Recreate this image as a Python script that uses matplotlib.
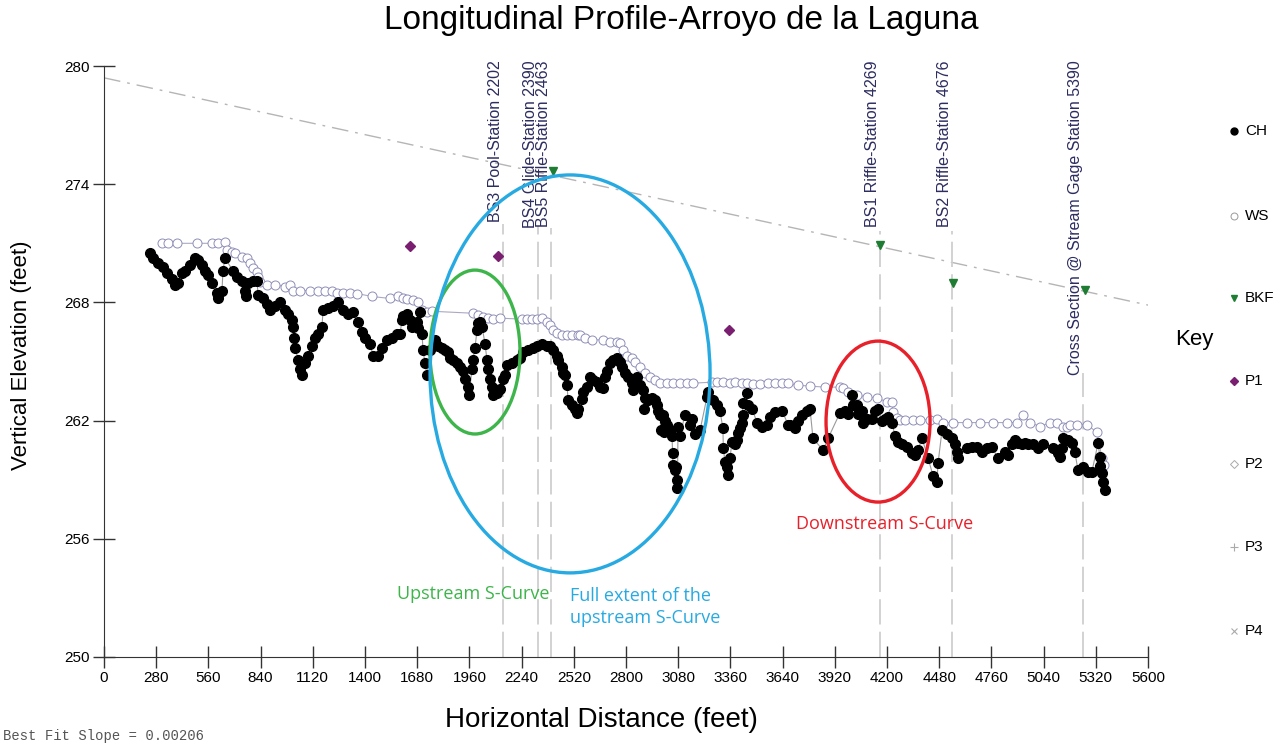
import matplotlib.pyplot as plt
from matplotlib.patches import Ellipse
from matplotlib.lines import Line2D

# channel bed points (CH)
ch_x = [247, 263, 290, 316, 338, 365, 381, 397, 418, 434, 461, 488, 504, 526, 542, 558, 579, 606, 611, 633,
        638, 649, 692, 713, 740, 756, 762, 772, 799, 821, 826, 853, 874, 890, 917, 944, 971, 987, 1008, 1014,
        1020, 1025, 1041, 1051, 1062, 1078, 1094, 1116, 1132, 1148, 1169, 1175, 1202, 1228, 1255, 1282, 1309,
        1336, 1362, 1384, 1400, 1427, 1443, 1470, 1491, 1518, 1545, 1572, 1588, 1598, 1604, 1625, 1641, 1652,
        1668, 1679, 1684, 1695, 1706, 1711, 1722, 1733, 1749, 1775, 1792, 1813, 1829, 1845, 1856, 1872, 1894,
        1910, 1926, 1936, 1953, 1958, 1974, 1979, 1990, 2001, 2006, 2017, 2028, 2044, 2054, 2060, 2070, 2081,
        2087, 2108, 2124, 2140, 2151, 2162, 2189, 2215, 2231, 2248, 2274, 2301, 2323, 2349, 2376, 2392, 2408,
        2430, 2435, 2457, 2462, 2473, 2484, 2489, 2510, 2526, 2537, 2542, 2564, 2569, 2591, 2607, 2623, 2644,
        2661, 2677, 2687, 2698, 2714, 2730, 2752, 2768, 2778, 2795, 2811, 2832, 2838, 2859, 2875, 2891, 2896,
        2902, 2918, 2939, 2956, 2966, 2972, 2982, 2987, 2998, 3003, 3009, 3020, 3036, 3047, 3050, 3052, 3063,
        3070, 3074, 3076, 3079, 3090, 3116, 3143, 3154, 3170, 3197, 3234, 3240, 3267, 3288, 3304, 3320, 3322,
        3331, 3342, 3345, 3358, 3368, 3385, 3395, 3401, 3411, 3422, 3425, 3428, 3449, 3454, 3476, 3503, 3529,
        3556, 3572, 3599, 3637, 3669, 3680, 3707, 3723, 3744, 3771, 3787, 3803, 3857, 3884, 3948, 3975, 3991,
        4012, 4018, 4039, 4044, 4066, 4071, 4093, 4120, 4136, 4152, 4173, 4189, 4205, 4227, 4243, 4259, 4280,
        4307, 4334, 4350, 4366, 4388, 4420, 4447, 4468, 4474, 4495, 4522, 4549, 4565, 4576, 4581, 4629, 4656,
        4683, 4710, 4737, 4763, 4795, 4833, 4849, 4870, 4886, 4903, 4924, 4940, 4956, 4983, 5010, 5037, 5090,
        5117, 5128, 5139, 5144, 5171, 5192, 5208, 5224, 5251, 5278, 5299, 5332, 5342, 5345, 5353, 5356, 5369]
ch_y = [270.5, 270.25, 270.0, 269.8, 269.5, 269.2, 268.9, 269.0, 269.5, 269.6, 269.9, 270.25, 270.15, 269.9,
        269.6, 269.4, 269.0, 268.5, 268.2, 268.6, 269.6, 270.25, 269.6, 269.3, 269.1, 268.6, 268.3, 269.0,
        269.1, 269.1, 268.4, 268.2, 267.9, 267.6, 267.8, 268.0, 267.6, 267.4, 267.1, 266.75, 266.2, 265.7,
        265.1, 264.6, 264.3, 264.9, 265.3, 265.8, 266.2, 266.4, 266.75, 267.6, 267.7, 267.8, 268.0, 267.6,
        267.4, 267.5, 267.0, 266.5, 266.2, 265.9, 265.3, 265.3, 265.7, 266.1, 266.2, 266.4, 266.4, 267.1,
        267.3, 267.4, 267.1, 266.75, 266.95, 267.0, 266.7, 267.5, 266.4, 265.6, 264.9, 264.3, 265.6, 266.1,
        265.8, 265.7, 265.6, 265.5, 265.2, 265.1, 264.9, 264.7, 264.5, 264.1, 263.7, 263.3, 264.6, 265.1,
        265.7, 266.6, 266.95, 267.0, 266.75, 265.9, 265.1, 264.6, 264.1, 263.7, 263.3, 263.4, 263.6, 264.1,
        264.3, 264.8, 264.9, 265.1, 265.2, 265.5, 265.6, 265.7, 265.8, 265.9, 265.8, 265.8, 265.6, 265.3,
        265.1, 264.7, 264.4, 264.3, 263.8, 263.05, 262.8, 262.6, 262.4, 262.6, 263.1, 263.45, 263.7, 264.2,
        264.05, 263.95, 263.7, 263.65, 264.2, 264.5, 264.9, 265.1, 265.2, 265.0, 264.7, 264.4, 264.2, 263.9,
        263.55, 264.2, 263.8, 263.55, 262.6, 263.15, 263.05, 263.15, 263.05, 262.8, 262.5, 262.3, 261.5,
        262.3, 261.4, 262.0, 261.8, 261.5, 261.2, 260.35, 259.75, 259.5, 259.65, 259.0, 258.6, 261.7, 261.2,
        262.3, 261.8, 262.1, 261.3, 261.5, 263.2, 263.45, 263.05, 262.8, 262.5, 261.6, 260.6, 259.9, 259.65,
        259.25, 260.1, 260.9, 260.8, 261.0, 261.35, 261.6, 261.9, 262.3, 262.9, 263.4, 262.8, 262.6, 261.9,
        261.7, 261.8, 262.2, 262.45, 262.5, 261.8, 261.8, 261.6, 262.0, 262.3, 262.5, 262.6, 261.1, 260.5,
        261.1, 262.4, 262.5, 262.35, 263.3, 262.8, 262.8, 262.35, 262.5, 261.9, 262.1, 262.1, 262.5, 262.6,
        262.0, 262.1, 262.2, 261.9, 261.2, 260.9, 260.8, 260.65, 260.35, 260.25, 260.5, 261.1, 260.1, 259.2,
        258.9, 259.85, 261.5, 261.3, 261.1, 260.8, 260.4, 260.1, 260.6, 260.65, 260.65, 260.4, 260.6, 260.65,
        260.1, 260.4, 260.25, 260.8, 261.0, 260.85, 260.8, 260.85, 260.8, 260.8, 260.6, 260.8, 260.6, 260.35,
        260.15, 260.6, 261.1, 261.0, 260.85, 260.4, 259.5, 259.65, 259.4, 259.4, 260.85, 260.15, 259.7,
        259.35, 258.9, 258.5]

# water surface points (WS)
ws_x = [311, 343, 392, 499, 579, 611, 649, 660, 687, 703, 740, 767, 783, 799, 821, 826, 837, 874, 917, 971,
        998, 1014, 1051, 1105, 1148, 1185, 1223, 1250, 1282, 1320, 1357, 1438, 1534, 1577, 1604, 1625, 1657,
        1684, 1706, 1733, 1759, 1979, 2006, 2033, 2060, 2087, 2124, 2242, 2269, 2296, 2323, 2349, 2376, 2392,
        2408, 2430, 2457, 2484, 2510, 2542, 2553, 2580, 2618, 2677, 2714, 2752, 2768, 2784, 2805, 2832, 2848,
        2875, 2902, 2929, 2956, 2982, 3020, 3052, 3090, 3127, 3159, 3261, 3288, 3320, 3358, 3385, 3422, 3449,
        3481, 3519, 3562, 3599, 3637, 3669, 3720, 3787, 3867, 3948, 3964, 3991, 4039, 4093, 4146, 4200, 4227,
        4232, 4254, 4270, 4297, 4340, 4377, 4431, 4468, 4500, 4554, 4629, 4699, 4769, 4844, 4897, 4929, 4967,
        5021, 5074, 5112, 5144, 5166, 5181, 5219, 5273, 5326, 5353, 5365]
ws_y = [271.0, 271.0, 271.0, 271.0, 271.0, 271.0, 271.05, 270.65, 270.55, 270.5, 270.3, 270.25, 270.0,
        269.75, 269.55, 269.3, 269.05, 268.9, 268.9, 268.8, 268.9, 268.6, 268.6, 268.6, 268.6, 268.6, 268.6,
        268.5, 268.5, 268.5, 268.45, 268.3, 268.2, 268.3, 268.2, 268.15, 268.1, 268.0, 267.6, 267.5, 267.55,
        267.45, 267.35, 267.25, 267.2, 267.15, 267.2, 267.15, 267.15, 267.15, 267.15, 267.2, 267.0, 266.85,
        266.6, 266.45, 266.35, 266.35, 266.35, 266.35, 266.35, 266.2, 266.1, 266.1, 266.0, 266.0, 265.95,
        265.6, 265.3, 265.2, 265.0, 264.7, 264.4, 264.2, 264.05, 263.9, 263.9, 263.9, 263.9, 263.9, 263.9,
        263.95, 263.95, 263.95, 263.9, 263.95, 263.9, 263.9, 263.85, 263.85, 263.9, 263.9, 263.9, 263.9,
        263.8, 263.75, 263.7, 263.7, 263.65, 263.45, 263.3, 263.2, 263.15, 262.95, 262.95, 262.45, 262.15,
        262.05, 262.05, 262.05, 262.05, 262.05, 262.1, 261.9, 261.9, 261.9, 261.9, 261.9, 261.9, 261.9,
        262.3, 261.9, 261.7, 261.9, 261.9, 261.7, 261.65, 261.8, 261.8, 261.8, 261.4, 260.1, 259.75]

# bankfull (BKF) and P1 points
bkf_x = [2408, 4162, 4554, 5262]
bkf_y = [274.65, 270.9, 269.0, 268.65]
p1_x = [1641, 2113, 3352]
p1_y = [270.85, 270.35, 266.6]

# station markers
station_names = ['BS3 Pool-Station 2202', 'BS4 Glide-Station 2390', 'BS5 Riffle-Station 2463',
                 'BS1 Riffle-Station 4269', 'BS2 Riffle-Station 4676',
                 'Cross Section @ Stream Gage Station 5390']
station_x = [2140, 2328, 2398, 4162, 4549, 5251]
station_top = [272.0, 271.9, 271.8, 271.6, 271.6, 264.4]

# best fit line
fit_slope = 0.00206
fit_start = 279.4

# ellipses: center x, center y, width, height
s_curves = {
    'green': (1990, 265.48, 483, 8.32),
    'blue': (2500, 264.37, 1502, 20.2),
    'red': (4152, 261.95, 558, 8.17),
}

plt.rcParams['font.family'] = ['Liberation Sans', 'DejaVu Sans']

fig = plt.figure(figsize=(12.81, 7.47), dpi=100)
ax = fig.add_axes([104 / 1281, 90 / 747, 1044 / 1281, 591 / 747])

# trend line
fx = [0, 5700]
ax.plot(fx, [fit_start - fit_slope * v for v in fx], color='#b5b5b5', lw=1.0,
        linestyle=(0, (12, 5, 2, 5)), zorder=1)

# station lines and labels
for name, sx, top in zip(station_names, station_x, station_top):
    ax.plot([sx, sx], [250, top], color='#cfcfcf', lw=1.3, linestyle=(0, (14, 4)), zorder=1)
    ax.text(sx, 280.3, name, rotation=90, ha='right', va='top', fontsize=11.5,
            color='#2c2c60', clip_on=False)

ax.plot(ws_x, ws_y, color='#a9a9c2', lw=0.8, marker='o', markersize=6.5,
        markerfacecolor='white', markeredgecolor='#8f8fb8', markeredgewidth=0.7, zorder=2)
ax.plot(ch_x, ch_y, color='#9a9a9a', lw=0.8, marker='o', markersize=7,
        markerfacecolor='black', markeredgecolor='black', zorder=3)
ax.plot(bkf_x, bkf_y, linestyle='none', marker='v', markersize=6, color='#1e7d32', zorder=4)
ax.plot(p1_x, p1_y, linestyle='none', marker='D', markersize=5, color='#7a1f70', zorder=4)

colors = {'green': '#3db54a', 'blue': '#27aae1', 'red': '#e8202a'}
for key, (cx, cy, w, h) in s_curves.items():
    ax.add_patch(Ellipse((cx, cy), w, h, fill=False, edgecolor=colors[key], lw=2.4, zorder=5))

ax.text(1979, 253.2, 'Upstream S-Curve', color=colors['green'], fontsize=13,
        family='Open Sans', ha='center', va='center')
ax.text(2500, 252.55, 'Full extent of the\nupstream S-Curve', color=colors['blue'], fontsize=13,
        family='Open Sans', ha='left', va='center', linespacing=1.25)
ax.text(4189, 256.75, 'Downstream S-Curve', color=colors['red'], fontsize=13,
        family='Open Sans', ha='center', va='center')

ax.set_xlim(0, 5600)
ax.set_ylim(250, 280)
ax.set_xticks(range(0, 5601, 280))
ax.set_yticks(range(250, 281, 6))
ax.tick_params(direction='inout', length=16, width=1, color='#333333', labelsize=11, pad=2)
for side in ['top', 'right']:
    ax.spines[side].set_visible(False)
for side in ['left', 'bottom']:
    ax.spines[side].set_color('#333333')

ax.set_xlabel('Horizontal Distance (feet)', fontsize=20)
ax.xaxis.set_label_coords(601 / 1044 - 104 / 1044, -50 / 591)
ax.set_ylabel('Vertical Elevation (feet)', fontsize=16)
ax.yaxis.set_label_coords(-72 / 1044, 0.51)

fig.text(681 / 1281, 1 - 20 / 747, 'Longitudinal Profile-Arroyo de la Laguna', fontsize=24,
         ha='center', va='center')
fig.text(0.002, 1 - 736 / 747, 'Best Fit Slope = 0.00206', family='Liberation Mono',
         fontsize=10, color='#555555', va='center')

# key on the right
key_names = ['CH', 'WS', 'BKF', 'P1', 'P2', 'P3', 'P4']
key_y = [131, 216, 298, 381, 464, 547, 631]
key_style = [
    dict(marker='o', color='black', markersize=5),
    dict(marker='o', markerfacecolor='white', markeredgecolor='#9a9a9a', markersize=5, markeredgewidth=0.7),
    dict(marker='v', color='#1e7d32', markersize=5),
    dict(marker='D', color='#7a1f70', markersize=4),
    dict(marker='D', markerfacecolor='white', markeredgecolor='#aaaaaa', markersize=4, markeredgewidth=0.7),
    dict(marker='+', color='#aaaaaa', markersize=6, markeredgewidth=0.8),
    dict(marker='x', color='#aaaaaa', markersize=5, markeredgewidth=0.8),
]
for name, py, st in zip(key_names, key_y, key_style):
    fig.add_artist(Line2D([1234 / 1281], [1 - py / 747], linestyle='none',
                          transform=fig.transFigure, **st))
    fig.text(1245 / 1281, 1 - py / 747, name, fontsize=11, va='center', ha='left')
fig.text(1175 / 1281, 1 - 339 / 747, 'Key', fontsize=16, va='center', ha='left')

fig.savefig('out.png', dpi=100, facecolor='white')
